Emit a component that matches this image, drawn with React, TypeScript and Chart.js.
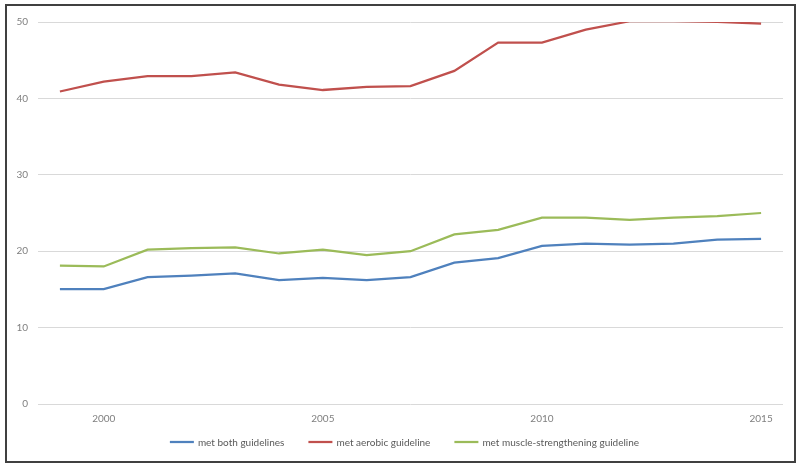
import { useEffect, useRef } from 'react'
import { Chart, ChartConfiguration, Plugin, registerables } from 'chart.js'

Chart.register(...registerables)

const years = ['1999', '2000', '2001', '2002', '2003', '2004', '2005', '2006', '2007', '2008', '2009', '2010', '2011', '2012', '2013', '2014', '2015']
const metBoth = [15.05, 15.05, 16.6, 16.8, 17.1, 16.2, 16.5, 16.2, 16.6, 18.5, 19.1, 20.7, 21.0, 20.85, 21.0, 21.5, 21.6]
const metAerobic = [40.9, 42.2, 42.9, 42.9, 43.4, 41.8, 41.1, 41.5, 41.6, 43.6, 47.3, 47.3, 49.0, 50.1, 50.1, 50.0, 49.8]
const metMuscle = [18.1, 18.0, 20.2, 20.4, 20.5, 19.7, 20.2, 19.5, 20.0, 22.2, 22.8, 24.4, 24.4, 24.1, 24.4, 24.6, 25.0]
const yTicks = [0, 10, 20, 30, 40, 50]

const FONT = 'Lato, "Open Sans", sans-serif'

// legend drawn as short line + label, like the spreadsheet original
const lineLegend: Plugin = {
  id: 'lineLegend',
  afterDraw(chart) {
    const ctx = chart.ctx
    const lineW = 24
    const gapText = 4
    const gapItem = 24
    const y = 442
    ctx.save()
    ctx.font = `10px ${FONT}`
    ctx.textBaseline = 'middle'
    const items = chart.data.datasets.map((ds) => {
      const label = String(ds.label)
      return { label, color: String(ds.borderColor), w: lineW + gapText + ctx.measureText(label).width }
    })
    const total = items.reduce((a, it) => a + it.w, 0) + gapItem * (items.length - 1)
    let x = 404.5 - total / 2
    items.forEach((it) => {
      ctx.strokeStyle = it.color
      ctx.lineWidth = 2.25
      ctx.beginPath()
      ctx.moveTo(x, y)
      ctx.lineTo(x + lineW, y)
      ctx.stroke()
      ctx.fillStyle = '#595959'
      ctx.fillText(it.label, x + lineW + gapText, y + 0.5)
      x += it.w + gapItem
    })
    ctx.restore()
  },
}

export default function App() {
  const canvasRef = useRef<HTMLCanvasElement>(null)
  const chartRef = useRef<Chart | null>(null)

  useEffect(() => {
    if (!canvasRef.current) return
    const ctx = canvasRef.current.getContext('2d')
    if (!ctx) return

    if (chartRef.current) chartRef.current.destroy()

    const series = [
      { label: 'met both guidelines', data: metBoth, color: '#4F81BD' },
      { label: 'met aerobic guideline', data: metAerobic, color: '#C0504D' },
      { label: 'met muscle-strengthening guideline', data: metMuscle, color: '#9BBB59' },
    ]

    const config: ChartConfiguration = {
      type: 'line',
      data: {
        labels: years,
        datasets: series.map((s) => ({
          label: s.label,
          data: s.data,
          borderColor: s.color,
          backgroundColor: s.color,
          borderWidth: 2.25,
          pointRadius: 0,
          tension: 0,
          fill: false,
        })),
      },
      options: {
        responsive: false,
        animation: false,
        layout: { padding: { top: 22, left: 0, right: 17, bottom: 42 } },
        plugins: {
          legend: { display: false },
          tooltip: { enabled: false },
        },
        scales: {
          x: {
            offset: true,
            grid: { display: false, drawTicks: false },
            border: { display: false },
            afterFit: (scale) => {
              scale.height = 21
            },
            ticks: {
              autoSkip: false,
              maxRotation: 0,
              padding: 9,
              color: '#7f7f7f',
              font: { family: FONT, size: 10 },
              callback: (_v, i) => (Number(years[i]) % 5 === 0 ? years[i] : ''),
            },
          },
          y: {
            min: 0,
            max: 50,
            afterFit: (scale) => {
              scale.width = 38
            },
            afterBuildTicks: (scale) => {
              scale.ticks = yTicks.map((v) => ({ value: v }))
            },
            grid: { color: '#d9d9d9', lineWidth: 1, drawTicks: false },
            border: { display: false },
            ticks: {
              padding: 10,
              color: '#7f7f7f',
              font: { family: FONT, size: 10 },
            },
          },
        },
      },
      plugins: [lineLegend],
    }

    chartRef.current = new Chart(ctx, config)

    return () => {
      chartRef.current?.destroy()
    }
  }, [])

  return (
    <div style={{ position: 'absolute', left: 0, top: 0, width: 800, height: 467, overflow: 'hidden', background: '#fff' }}>
      <div
        style={{
          position: 'absolute',
          left: 5,
          top: 4,
          width: 787,
          height: 455,
          border: '2px solid #404040',
        }}
      />
      <canvas ref={canvasRef} width={800} height={467} style={{ position: 'absolute', left: 0, top: 0 }} />
    </div>
  )
}
